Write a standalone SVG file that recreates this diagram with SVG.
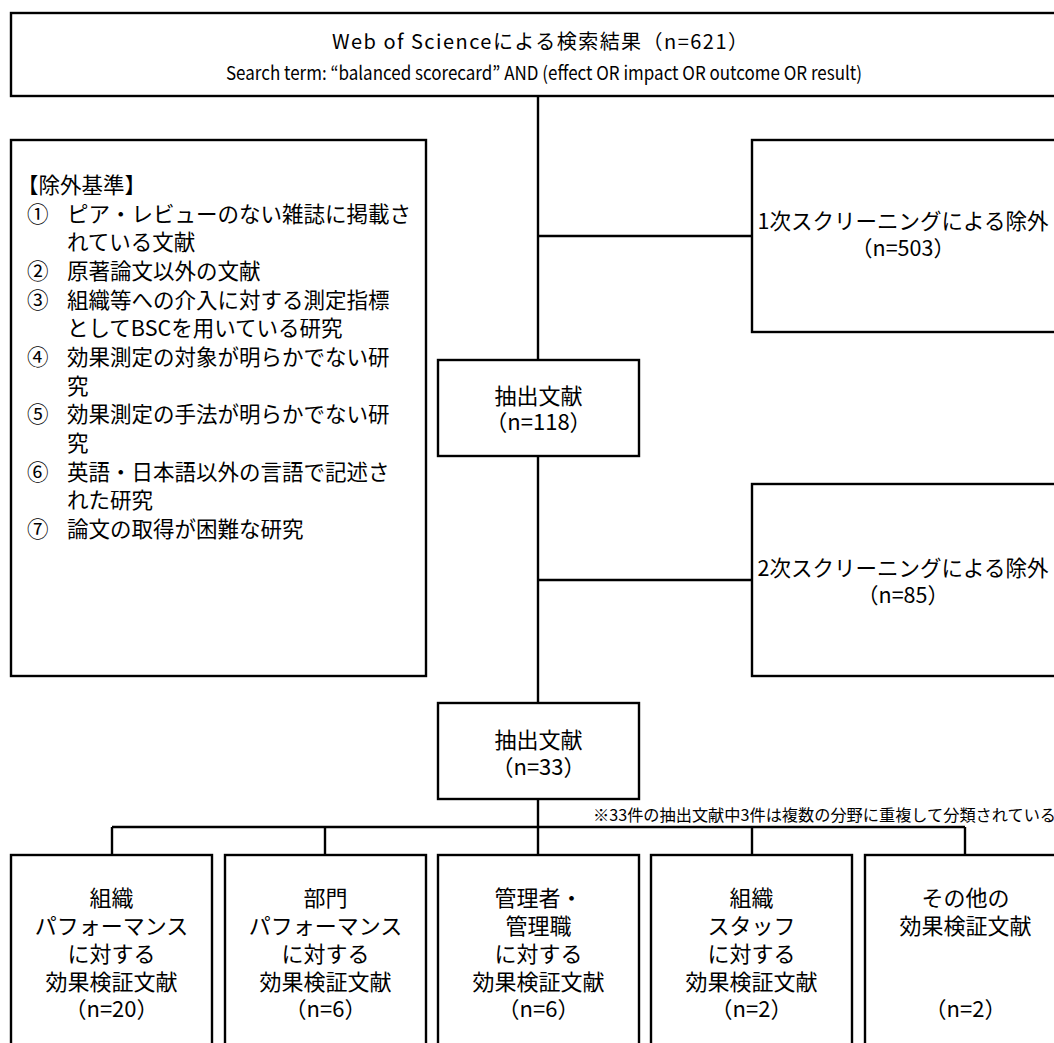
<svg xmlns="http://www.w3.org/2000/svg" width="1054" height="1043" viewBox="0 0 1054 1043">
<style>
.box{fill:#fff;stroke:#000;stroke-width:2.4}
.ln{stroke:#000;stroke-width:2.4;fill:none}
text{font-family:"Noto Sans CJK JP","Noto Sans",sans-serif;fill:#000}
.c{text-anchor:middle;font-size:22px}
.r{text-anchor:middle;font-size:21.5px}
.l{font-size:21.5px}
.t{text-anchor:middle;font-size:19px}
.t1{font-size:20px}
.note{font-size:16.2px}
</style>
<rect width="1054" height="1043" fill="#fff"/>
<g id="connectors">
<path class="ln" d="M538 96V360M538 456V703M538 799V855M538 236H752M538 580H752M112 827H965M112 827V855M325 827V855M752 827V855M965 827V855"/>
</g>
<g id="search">
<rect class="box" x="11" y="13" width="1060" height="83"/>
<text class="t"><tspan class="t1" x="540" y="49" textLength="416" lengthAdjust="spacing">Web of Scienceによる検索結果（n=621）</tspan><tspan x="544" y="80" textLength="636" lengthAdjust="spacingAndGlyphs">Search term: “balanced scorecard” AND (effect OR impact OR outcome OR result)</tspan></text>
</g>
<g id="criteria">
<rect class="box" x="11" y="140" width="415" height="536"/>
<text class="l"><tspan x="17" y="192.5">【除外基準】</tspan><tspan x="27" y="221.5">①</tspan><tspan x="67" y="221.5">ピア・レビューのない雑誌に掲載さ</tspan><tspan x="67" y="249.5">れている文献</tspan><tspan x="27" y="278.5">②</tspan><tspan x="67" y="278.5">原著論文以外の文献</tspan><tspan x="27" y="307.5">③</tspan><tspan x="67" y="307.5">組織等への介入に対する測定指標</tspan><tspan x="67" y="335.5">としてBSCを用いている研究</tspan><tspan x="27" y="364.5">④</tspan><tspan x="67" y="364.5">効果測定の対象が明らかでない研</tspan><tspan x="67" y="393.5">究</tspan><tspan x="27" y="421.5">⑤</tspan><tspan x="67" y="421.5">効果測定の手法が明らかでない研</tspan><tspan x="67" y="450.5">究</tspan><tspan x="27" y="479.5">⑥</tspan><tspan x="67" y="479.5">英語・日本語以外の言語で記述さ</tspan><tspan x="67" y="507.5">れた研究</tspan><tspan x="27" y="536.5">⑦</tspan><tspan x="67" y="536.5">論文の取得が困難な研究</tspan></text>
</g>
<g id="excl1">
<rect class="box" x="752" y="140" width="306" height="192"/>
<text class="r"><tspan x="903" y="229">1次スクリーニングによる除外</tspan><tspan x="903" y="256">（n=503）</tspan></text>
</g>
<g id="ext118">
<rect class="box" x="438" y="360" width="201" height="96"/>
<text class="c"><tspan x="538.5" y="404">抽出文献</tspan><tspan x="538.5" y="430">（n=118）</tspan></text>
</g>
<g id="excl2">
<rect class="box" x="752" y="484" width="306" height="192"/>
<text class="r"><tspan x="903" y="576">2次スクリーニングによる除外</tspan><tspan x="903" y="603">（n=85）</tspan></text>
</g>
<g id="ext33">
<rect class="box" x="438" y="703" width="201" height="96"/>
<text class="c"><tspan x="538.5" y="748">抽出文献</tspan><tspan x="538.5" y="775">（n=33）</tspan></text>
</g>
<text class="note" x="593" y="821">※33件の抽出文献中3件は複数の分野に重複して分類されている</text>
<g id="cat1">
<rect class="box" x="11" y="855" width="201" height="210"/>
<text class="c"><tspan x="111.5" y="906">組織</tspan><tspan x="111.5" y="934">パフォーマンス</tspan><tspan x="111.5" y="962">に対する</tspan><tspan x="111.5" y="990">効果検証文献</tspan><tspan x="111.5" y="1017">（n=20）</tspan></text>
</g>
<g id="cat2">
<rect class="box" x="225" y="855" width="201" height="210"/>
<text class="c"><tspan x="325.5" y="906">部門</tspan><tspan x="325.5" y="934">パフォーマンス</tspan><tspan x="325.5" y="962">に対する</tspan><tspan x="325.5" y="990">効果検証文献</tspan><tspan x="325.5" y="1017">（n=6）</tspan></text>
</g>
<g id="cat3">
<rect class="box" x="438" y="855" width="201" height="210"/>
<text class="c"><tspan x="538.5" y="906">管理者・</tspan><tspan x="538.5" y="934">管理職</tspan><tspan x="538.5" y="962">に対する</tspan><tspan x="538.5" y="990">効果検証文献</tspan><tspan x="538.5" y="1017">（n=6）</tspan></text>
</g>
<g id="cat4">
<rect class="box" x="651" y="855" width="201" height="210"/>
<text class="c"><tspan x="751.5" y="906">組織</tspan><tspan x="751.5" y="934">スタッフ</tspan><tspan x="751.5" y="962">に対する</tspan><tspan x="751.5" y="990">効果検証文献</tspan><tspan x="751.5" y="1017">（n=2）</tspan></text>
</g>
<g id="cat5">
<rect class="box" x="865" y="855" width="201" height="210"/>
<text class="c"><tspan x="965.5" y="906">その他の</tspan><tspan x="965.5" y="934">効果検証文献</tspan><tspan x="965.5" y="1017">（n=2）</tspan></text>
</g>
</svg>
